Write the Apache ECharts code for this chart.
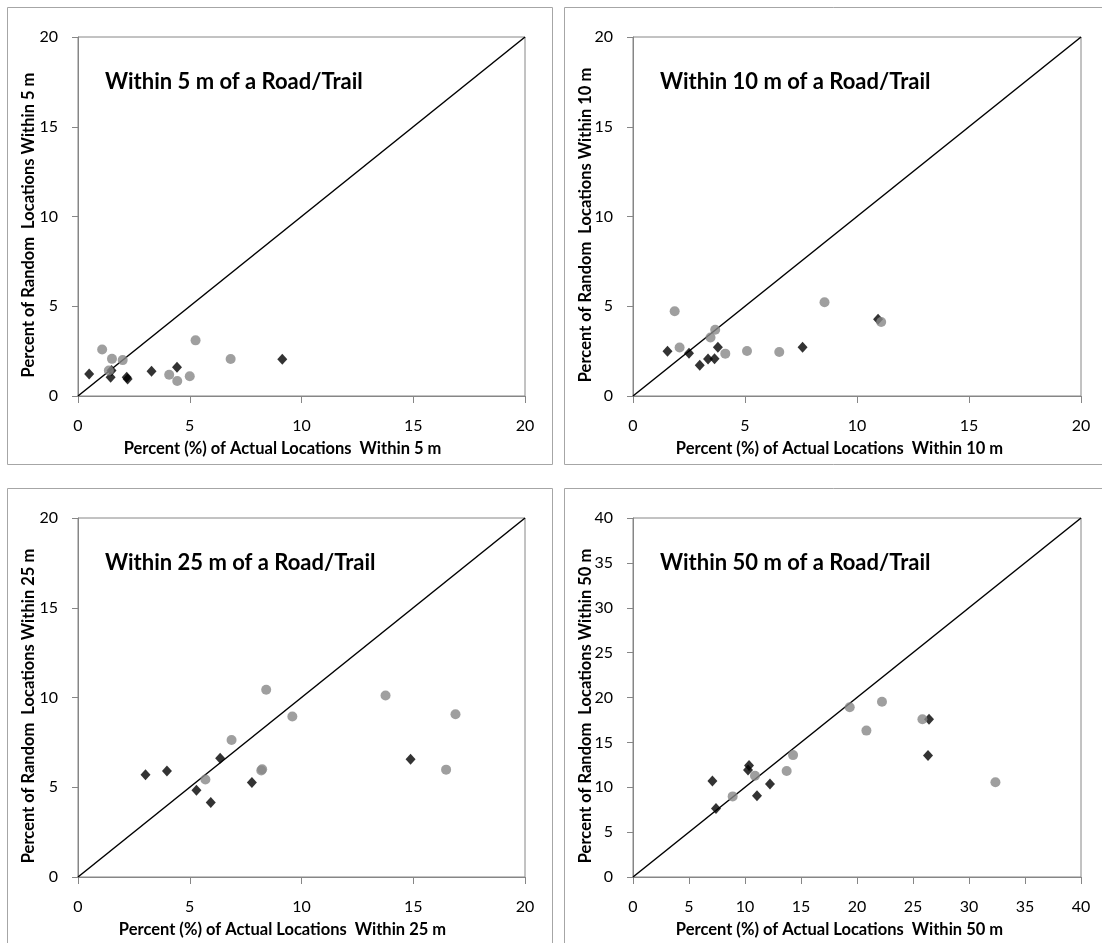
<!DOCTYPE html>
<html><head><meta charset="utf-8">
<script src="https://cdn.jsdelivr.net/npm/echarts@6/dist/echarts.min.js"></script>
<style>html,body{margin:0;padding:0;background:#fff}#c{width:1102px;height:943px}</style>
</head><body><div id="c"></div>
<script>
// ---- data ----
const panelTitles = ["Within 5 m of a Road/Trail","Within 10 m of a Road/Trail","Within 25 m of a Road/Trail","Within 50 m of a Road/Trail"];
const xTitles = ["Percent (%) of Actual Locations  Within 5 m","Percent (%) of Actual Locations  Within 10 m","Percent (%) of Actual Locations  Within 25 m","Percent (%) of Actual Locations  Within 50 m"];
const yTitles = ["Percent of Random  Locations Within 5 m","Percent of Random  Locations Within 10 m","Percent of Random  Locations Within 25 m","Percent of Random  Locations Within 50 m"];
const axisMax = [20, 20, 20, 40];
const axisStep = [5, 5, 5, 5];
const refLines = [[[0,0],[20,20]],[[0,0],[20,20]],[[0,0],[20,20]],[[0,0],[40,40]]];

const p1Black = [[0.50,1.23],[1.46,1.04],[1.50,1.42],[2.18,1.04],[2.22,0.95],[3.29,1.38],[4.43,1.60],[9.14,2.05]];
const p1Gray  = [[1.08,2.59],[1.52,2.07],[2.00,2.00],[1.38,1.42],[5.26,3.10],[4.08,1.18],[4.44,0.84],[5.00,1.10],[6.83,2.06]];
const p2Black = [[1.54,2.49],[2.50,2.38],[2.98,1.72],[3.35,2.06],[3.64,2.08],[3.79,2.72],[7.57,2.72],[10.94,4.27]];
const p2Gray  = [[1.86,4.72],[2.08,2.70],[3.46,3.26],[3.67,3.69],[4.12,2.36],[5.09,2.51],[6.53,2.45],[8.55,5.22],[11.08,4.12]];
const p3Black = [[3.02,5.69],[3.98,5.91],[5.30,4.83],[5.94,4.15],[6.36,6.61],[7.78,5.26],[14.88,6.56]];
const p3Gray  = [[5.70,5.43],[6.87,7.63],[8.20,5.93],[8.24,6.00],[8.42,10.43],[9.59,8.94],[13.76,10.11],[16.47,5.98],[16.89,9.07]];
const p4Black = [[7.09,10.70],[7.41,7.63],[10.36,12.41],[10.27,11.93],[11.07,9.05],[12.23,10.36],[26.34,13.54],[26.43,17.58]];
const p4Gray  = [[8.90,8.98],[10.89,11.29],[13.72,11.82],[14.29,13.58],[19.35,18.92],[22.23,19.53],[20.84,16.31],[25.84,17.58],[32.36,10.55]];

const blackSets = [p1Black, p2Black, p3Black, p4Black];
const graySets = [p1Gray, p2Gray, p3Gray, p4Gray];

// ---- layout ----
const FONT = 'Lato';
const grids = [
  {left:78, top:37, width:447, height:359},
  {left:633, top:37, width:448, height:359},
  {left:78, top:518, width:447, height:359},
  {left:633, top:518, width:448, height:359}
];
const panelBoxes = [[7.5,7.5],[564.5,7.5],[7.5,488.5],[564.5,488.5]];
const AX = '#868686';

const option = {
  animation:false,
  backgroundColor:'#fff',
  grid: grids.map(g=>Object.assign({show:true, borderColor:AX, borderWidth:1, containLabel:false}, g)),
  xAxis: grids.map((g,i)=>({
    type:'value', gridIndex:i, min:0, max:axisMax[i], interval:axisStep[i],
    axisLine:{show:true, lineStyle:{color:AX, width:1}},
    axisTick:{show:true, inside:false, length:7, lineStyle:{color:AX}},
    splitLine:{show:false},
    axisLabel:{color:'#000', fontFamily:FONT, fontSize:16, margin:22}
  })),
  yAxis: grids.map((g,i)=>({
    type:'value', gridIndex:i, min:0, max:axisMax[i], interval:axisStep[i],
    axisLine:{show:true, lineStyle:{color:AX, width:1}},
    axisTick:{show:true, inside:false, length:6, lineStyle:{color:AX}},
    splitLine:{show:false},
    axisLabel:{color:'#000', fontFamily:FONT, fontSize:16, margin:20}
  })),
  series: [],
  graphic: []
};

for (let i=0;i<4;i++){
  option.series.push({type:'line', xAxisIndex:i, yAxisIndex:i, data:refLines[i], symbol:'none', lineStyle:{color:'#000', width:1.5}, z:2});
  option.series.push({type:'scatter', xAxisIndex:i, yAxisIndex:i, data:blackSets[i], symbol:'diamond', symbolSize:[10,11], itemStyle:{color:'#000'}, z:3});
  option.series.push({type:'scatter', xAxisIndex:i, yAxisIndex:i, data:graySets[i], symbol:'circle', symbolSize:[10,10], itemStyle:{color:'#878787'}, z:4});
  const g = grids[i];
  const [bx,by] = panelBoxes[i];
  option.graphic.push({type:'rect', shape:{x:bx, y:by, width:545, height:457}, style:{fill:null, stroke:'#a6a6a6', lineWidth:1}, z:0});
  option.graphic.push({type:'text', x:g.left+27, y:g.top+45, style:{text:panelTitles[i], font:'bold 22px '+FONT, fill:'#000', textAlign:'left', textVerticalAlign:'middle'}, z:10});
  option.graphic.push({type:'text', x:bx+275, y:g.top+412, style:{text:xTitles[i], font:'bold 16.5px '+FONT, fill:'#000', textAlign:'center', textVerticalAlign:'middle'}, z:10});
  option.graphic.push({type:'text', x:bx+21, y:g.top+188, rotation:Math.PI/2, style:{text:yTitles[i], font:'bold 16.5px '+FONT, fill:'#000', textAlign:'center', textVerticalAlign:'middle'}, z:10});
}

const chart = echarts.init(document.getElementById('c'), null, {renderer:'canvas'});
chart.setOption(option);
</script></body></html>
